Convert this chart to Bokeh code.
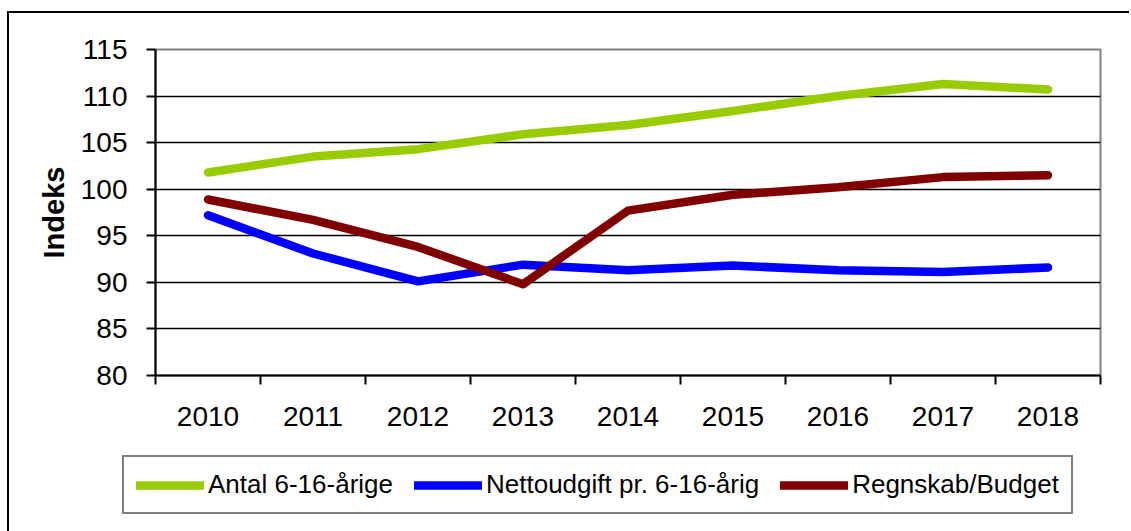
from bokeh.plotting import figure
from bokeh.layouts import column
from bokeh.models import FixedTicker, Legend, LegendItem, Range1d
from bokeh.embed import file_html
from bokeh.resources import INLINE

years = [2010, 2011, 2012, 2013, 2014, 2015, 2016, 2017, 2018]
antal = [101.8, 103.5, 104.3, 105.9, 106.9, 108.4, 110.0, 111.3, 110.7]
netto = [97.2, 93.1, 90.1, 91.9, 91.3, 91.8, 91.3, 91.1, 91.6]
regnskab = [98.9, 96.7, 93.8, 89.8, 97.7, 99.4, 100.2, 101.3, 101.5]
yticks = [80, 85, 90, 95, 100, 105, 110, 115]
series_names = ["Antal 6-16-årige", "Nettoudgift pr. 6-16-årig", "Regnskab/Budget"]
colors = ["#99CC00", "#0000FF", "#800000"]
y_title = "Indeks"

FONT = "Liberation Sans"
W = 1120

p = figure(width=W, height=427, output_backend="svg", toolbar_location=None,
           x_range=Range1d(years[0] - 0.5, years[-1] + 0.5),
           y_range=Range1d(yticks[0], yticks[-1]),
           min_border_left=146, min_border_right=29, min_border_top=36, min_border_bottom=65)
p.background_fill_color = "white"
p.border_fill_color = "white"
p.outline_line_color = "#808080"
p.outline_line_width = 2
p.frame_align = False

# grid
p.xgrid.visible = False
p.ygrid.grid_line_color = "black"
p.ygrid.grid_line_width = 1.6
p.ygrid.ticker = FixedTicker(ticks=yticks)

# y axis
p.yaxis.ticker = FixedTicker(ticks=yticks)
p.yaxis.axis_line_color = "black"
p.yaxis.axis_line_width = 2
p.yaxis.major_tick_line_color = "black"
p.yaxis.major_tick_line_width = 2
p.yaxis.major_tick_out = 9
p.yaxis.major_tick_in = 0
p.yaxis.minor_tick_line_color = None
p.yaxis.major_label_standoff = 19
p.yaxis.major_label_text_font = FONT
p.yaxis.major_label_text_font_size = "28px"
p.yaxis.major_label_text_color = "black"
p.yaxis.axis_label = y_title
p.yaxis.axis_label_text_font = FONT
p.yaxis.axis_label_text_font_size = "29px"
p.yaxis.axis_label_text_font_style = "bold"
p.yaxis.axis_label_text_color = "black"
p.yaxis.axis_label_standoff = 8

# x axis
bounds = [years[0] - 0.5 + i for i in range(len(years) + 1)]
p.xaxis.ticker = FixedTicker(ticks=years, minor_ticks=bounds)
p.xaxis.major_label_overrides = {y: str(y) for y in years}
p.xaxis.axis_line_color = "black"
p.xaxis.axis_line_width = 2
p.xaxis.major_tick_out = 0
p.xaxis.major_tick_in = 0
p.xaxis.minor_tick_line_color = "black"
p.xaxis.minor_tick_line_width = 2
p.xaxis.minor_tick_out = 9
p.xaxis.minor_tick_in = 0
p.xaxis.major_label_standoff = 22
p.xaxis.major_label_text_font = FONT
p.xaxis.major_label_text_font_size = "28px"
p.xaxis.major_label_text_color = "black"

all_series = [antal, netto, regnskab]
for vals, c in zip(all_series, colors):
    p.line(years, vals, line_color=c, line_width=8.5, line_cap="round", line_join="round")

# legend panel (separate figure below the chart; its lines lie outside its view)
q = figure(width=W, height=91, output_backend="svg", toolbar_location=None,
           x_range=Range1d(0, 1), y_range=Range1d(0, 1),
           min_border_left=0, min_border_right=0, min_border_top=0, min_border_bottom=0)
q.frame_align = False
q.axis.visible = False
q.grid.visible = False
q.outline_line_color = None
q.background_fill_color = "white"
q.border_fill_color = "white"
leg_renderers = []
for vals, c in zip(all_series, colors):
    r = q.line(years, vals, line_color=c, line_width=8.5, line_cap="round")
    leg_renderers.append(r)

items = [LegendItem(label=n, renderers=[r]) for n, r in zip(series_names, leg_renderers)]
legend = Legend(items=items, orientation="horizontal", location=(113, 17))
legend.border_line_color = "black"
legend.border_line_width = 2
legend.background_fill_color = "white"
legend.background_fill_alpha = 1
legend.label_text_font = FONT
legend.label_text_font_size = "26px"
legend.label_text_color = "black"
legend.glyph_width = 68
legend.glyph_height = 26
legend.label_standoff = 4
legend.spacing = 21
legend.padding = 12
legend.margin = 0
q.add_layout(legend, "center")

layout = column(p, q, spacing=0,
                styles={"border-left": "2px solid black", "border-top": "2px solid black",
                        "margin-left": "7px", "margin-top": "11px"})

open("out.html", "w").write(file_html(layout, INLINE))
